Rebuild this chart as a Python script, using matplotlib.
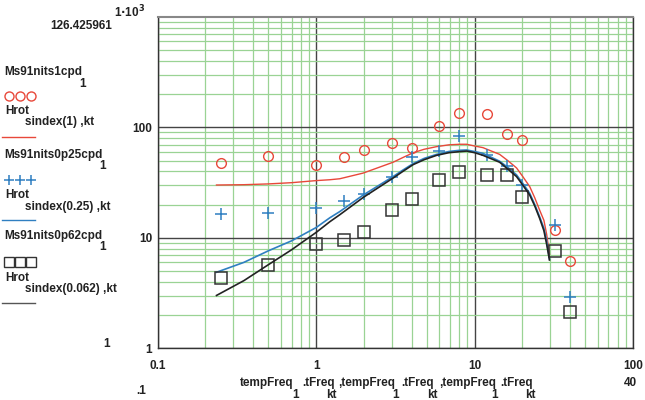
import matplotlib
matplotlib.use('Agg')
import matplotlib.pyplot as plt
from matplotlib.lines import Line2D
from matplotlib.ticker import LogLocator, FixedLocator, NullFormatter

plt.rcParams['font.family'] = ['Liberation Sans', 'DejaVu Sans']
plt.rcParams['font.weight'] = 'bold'

# measured data
x_meas = [0.25, 0.5, 1, 1.5, 2, 3, 4, 6, 8, 12, 16, 20, 32, 40]
y_1cpd = [47.2, 55, 45.5, 53.6, 62.2, 71.7, 64.5, 104, 134.5, 133, 86.9, 76.9, 11.7, 6.2]
y_025cpd = [16.6, 16.8, 18.7, 21.5, 24.9, 35.6, 54.4, 60.9, 84.3, 56.7, 45.2, 29.8, 13.2, 2.91]
y_062cpd = [4.3, 5.63, 8.86, 9.58, 11.4, 17.7, 22.4, 33.1, 39.3, 37.3, 36.8, 23.5, 7.59, 2.12]

# model curves
x_model = [0.235, 0.35, 0.5, 0.7, 1.0, 1.22, 1.41, 1.98, 3.06, 3.5, 4.10, 4.8, 5.76, 6.9, 8.07, 8.9,
           10.0, 11.3, 14.4, 16.2, 18.4, 20.1, 22.3, 24.0, 25.8, 27.4, 28.5, 29.7]
h_1 = [30.1, 30.3, 30.8, 31.6, 33.0, 33.6, 34.3, 38.6, 48.4, 53.1, 59.0, 63.4, 67.0, 69.6, 70.4, 70.4,
       67.9, 65.6, 57.0, 50.1, 43.0, 36.1, 29.1, 23.0, 17.7, 14.4, 10.8, 7.1]
h_025 = [4.88, 6.0, 7.64, 9.4, 12.4, 15.2, 17.3, 24.4, 35.9, 40.8, 47.1, 52.4, 57.0, 60.6, 62.1, 62.5,
         60.5, 58.2, 49.4, 43.5, 37.2, 31.3, 25.3, 20.0, 15.4, 12.2, 9.4, 6.44]
h_062 = [3.01, 4.1, 5.72, 7.8, 11.2, 14.0, 16.2, 23.2, 34.8, 39.7, 46.1, 51.0, 55.9, 59.1, 60.4, 61.1,
         59.1, 55.9, 48.4, 42.0, 35.9, 30.2, 24.4, 19.4, 14.9, 11.6, 8.78, 6.3]

x_ticks = [0.1, 1, 10, 100]
x_ticklabels = ['0.1', '1', '10', '100']
y_ticks = [1, 10, 100]
y_ticklabels = ['1', '10', '100']

RED = '#e8483a'
BLUE = '#2f7fc1'
BLACK = '#222222'
GREEN = '#9ad394'

fig = plt.figure(figsize=(6.45, 4.0), dpi=100)
ax = fig.add_axes([157.7/645, 1-348.3/400, (633-157.7)/645, (348.3-17)/400])
ax.set_xscale('log')
ax.set_yscale('log')
ax.set_xlim(0.1, 100)
ax.set_ylim(1, 1000)

ax.xaxis.set_major_locator(FixedLocator(x_ticks))
ax.yaxis.set_major_locator(FixedLocator(y_ticks))
ax.set_xticklabels(x_ticklabels)
ax.set_yticklabels(y_ticklabels)
ax.xaxis.set_minor_locator(LogLocator(base=10, subs=range(2, 10)))
ax.yaxis.set_minor_locator(LogLocator(base=10, subs=range(2, 10)))
ax.xaxis.set_minor_formatter(NullFormatter())
ax.yaxis.set_minor_formatter(NullFormatter())
ax.tick_params(which='both', length=0, labelsize=8.5)
ax.tick_params(axis='x', pad=8.5)
ax.tick_params(axis='y', pad=4)
for lab in ax.get_xticklabels() + ax.get_yticklabels():
    lab.set_fontweight('bold')
    lab.set_color('#222222')

ax.grid(which='minor', color=GREEN, lw=0.9, zorder=0)
ax.grid(which='major', color='#444444', lw=1.0, zorder=0.5)
ax.set_axisbelow(True)
for s in ['left', 'bottom', 'right']:
    ax.spines[s].set_color('#333333')
    ax.spines[s].set_linewidth(1.0)
ax.spines['top'].set_color('#888888')
ax.spines['top'].set_linewidth(1.5)

ax.plot(x_meas, y_1cpd, 'o', ls='none', mfc='none', mec=RED, ms=7, mew=1.0, zorder=3)
ax.plot(x_model, h_1, '-', color=RED, lw=1.0, zorder=3)
ax.plot(x_meas, y_025cpd, '+', ls='none', color=BLUE, ms=8, mew=1.1, zorder=3)
ax.plot(x_model, h_025, '-', color=BLUE, lw=1.2, zorder=3)
ax.plot(x_meas, y_062cpd, 's', ls='none', mfc='none', mec='#333333', ms=8, mew=1.1, zorder=3)
ax.plot(x_model, h_062, '-', color=BLACK, lw=1.2, zorder=3)

# left-side legend (Mathcad style)
def ft(x, y, s, **kw):
    fig.text(x/645, 1-y/400, s, fontsize=8.5, fontweight='bold', color='#222222', va='center', **kw)

def fline(x0, x1, y, color, lw):
    fig.add_artist(Line2D([x0/645, x1/645], [1-y/400, 1-y/400], color=color, lw=lw, transform=fig.transFigure))

def fmarks(y, marker, **kw):
    fig.add_artist(Line2D([9/645, 20/645, 31/645], [1-y/400]*3, marker=marker, ls='none', transform=fig.transFigure, **kw))

ft(50, 26, '126.425961')
fig.text(114/645, 1-12/400, r'1$\cdot$10$^{3}$', fontsize=8.5, fontweight='bold', color='#222222', va='center')

ft(4, 72, 'Ms91nits1cpd')
ft(79, 84, '1')
fmarks(96, 'o', mfc='none', mec=RED, ms=6.5, mew=1.0)
ft(5, 111, 'Hrot')
ft(25, 122, 'sindex(1) ,kt')
fline(2, 35, 137, RED, 1.0)

ft(4, 155, 'Ms91nits0p25cpd')
ft(99, 166, '1')
fmarks(180, '+', color=BLUE, ms=7, mew=1.1)
ft(5, 195, 'Hrot')
ft(25, 207, 'sindex(0.25) ,kt')
fline(2, 35, 220, BLUE, 1.0)

ft(4, 236, 'Ms91nits0p62cpd')
ft(99, 247, '1')
fmarks(262, 's', mfc='none', mec='#333333', ms=7, mew=1.0)
ft(5, 278, 'Hrot')
ft(25, 289, 'sindex(0.062) ,kt')
fline(2, 35, 303, '#555555', 1.0)

ft(103, 344, '1')
ft(136, 391, '.1')
ft(624, 383, '40')
ft(240, 383, 'tempFreq')
ft(292, 394.5, '1')
ft(302, 383, '.tFreq')
ft(326, 395, 'kt')
ft(338, 383, ',tempFreq')
ft(392, 394.5, '1')
ft(401, 383, '.tFreq')
ft(427, 395, 'kt')
ft(439, 383, ',tempFreq')
ft(491, 394.5, '1')
ft(500, 383, '.tFreq')
ft(525, 395, 'kt')

fig.savefig('out.png', dpi=100)
